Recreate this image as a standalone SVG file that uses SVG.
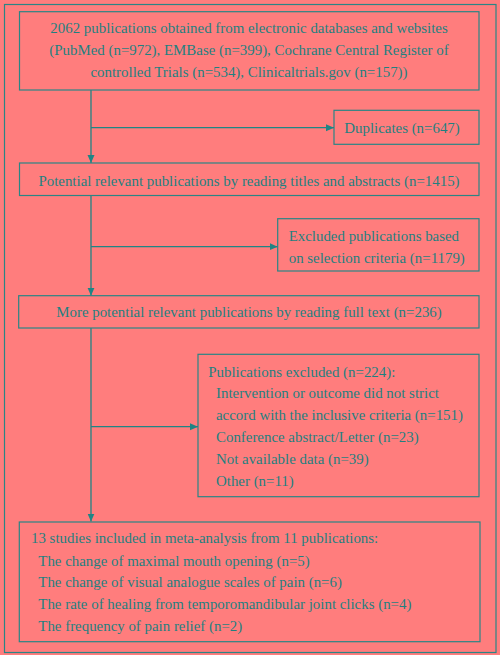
<svg xmlns="http://www.w3.org/2000/svg" width="500" height="655" viewBox="0 0 500 655">
<style>
.box{fill:none;stroke:#2a8585;stroke-width:1.2}
.ln{fill:none;stroke:#1f8585;stroke-width:1.3}
text{font-family:"Liberation Serif","Times New Roman",serif;font-size:14.9px;fill:#1f8080}
.c{text-anchor:middle}
</style>
<defs>
<marker id="ah" viewBox="0 0 8 8" refX="8" refY="4" markerWidth="8" markerHeight="8" markerUnits="userSpaceOnUse" orient="auto">
<path d="M0,0.5 L8,4 L0,7.5 Z" fill="#1f8585"/>
</marker>
</defs>
<rect x="0" y="0" width="500" height="655" fill="#ff7d7d"/>
<rect x="4.5" y="4.5" width="491.5" height="648" class="box"/>
<g id="connectors">
<line x1="91" y1="90" x2="91" y2="163" class="ln" marker-end="url(#ah)"/>
<line x1="91" y1="127.7" x2="334" y2="127.7" class="ln" marker-end="url(#ah)"/>
<line x1="91" y1="195.5" x2="91" y2="295.7" class="ln" marker-end="url(#ah)"/>
<line x1="91" y1="246.7" x2="277.7" y2="246.7" class="ln" marker-end="url(#ah)"/>
<line x1="91" y1="328" x2="91" y2="521.5" class="ln" marker-end="url(#ah)"/>
<line x1="91" y1="426.7" x2="198" y2="426.7" class="ln" marker-end="url(#ah)"/>
</g>
<g id="n1">
<rect x="19.5" y="11.7" width="459.5" height="78.3" class="box"/>
<text x="249" y="33" class="c">2062 publications obtained from electronic databases and websites</text>
<text x="249" y="55" class="c">(PubMed (n=972), EMBase (n=399), Cochrane Central Register of</text>
<text x="249" y="77" class="c">controlled Trials (n=534), Clinicaltrials.gov (n=157))</text>
</g>
<g id="n2">
<rect x="334" y="110.3" width="145" height="34" class="box"/>
<text x="402" y="132.5" class="c">Duplicates (n=647)</text>
</g>
<g id="n3">
<rect x="19.5" y="163" width="459.5" height="32.5" class="box"/>
<text x="249" y="185.5" class="c">Potential relevant publications by reading titles and abstracts (n=1415)</text>
</g>
<g id="n4">
<rect x="277.7" y="218.7" width="201.3" height="52.3" class="box"/>
<text x="288.7" y="240.5">Excluded publications based</text>
<text x="288.7" y="263">on selection criteria (n=1179)</text>
</g>
<g id="n5">
<rect x="18.7" y="295.7" width="460.3" height="32.3" class="box"/>
<text x="249" y="316.5" class="c">More potential relevant publications by reading full text (n=236)</text>
</g>
<g id="n6">
<rect x="198" y="354.3" width="281" height="142.4" class="box"/>
<text x="208.3" y="376.5">Publications excluded (n=224):</text>
<text x="216" y="398">Intervention or outcome did not strict</text>
<text x="216" y="420">accord with the inclusive criteria (n=151)</text>
<text x="216" y="442">Conference abstract/Letter (n=23)</text>
<text x="216" y="463.5">Not available data (n=39)</text>
<text x="216" y="485.5">Other (n=11)</text>
</g>
<g id="n7">
<rect x="19.3" y="522" width="460.7" height="119.7" class="box"/>
<text x="31" y="543">13 studies included in meta-analysis from 11 publications:</text>
<text x="38.3" y="565.5">The change of maximal mouth opening (n=5)</text>
<text x="38.3" y="587">The change of visual analogue scales of pain (n=6)</text>
<text x="38.3" y="609">The rate of healing from temporomandibular joint clicks (n=4)</text>
<text x="38.3" y="631">The frequency of pain relief (n=2)</text>
</g>
</svg>
